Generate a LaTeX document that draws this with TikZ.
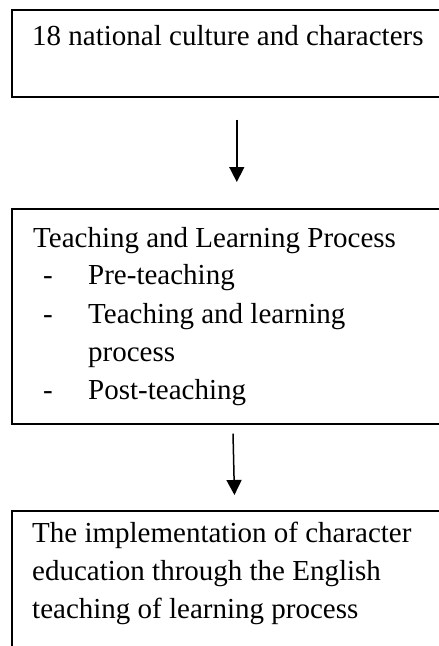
\documentclass[tikz,border=0pt]{standalone}
\usepackage{fontspec}
\setmainfont{Liberation Serif}
\usetikzlibrary{arrows.meta}
\begin{document}
\begin{tikzpicture}[x=1pt, y=-1pt,
  box/.style={draw=black, line width=1.6pt, anchor=north west, inner sep=0pt,
              minimum width=450pt},
  txt/.style={anchor=base west, inner sep=0pt, font=\fontsize{29}{38}\selectfont},
  arr/.style={line width=1.5pt, -{Triangle[length=15pt,width=15pt]}}]
  \useasboundingbox (0,0) rectangle (439,646);

  % boxes (they run past the right and bottom edge of the page)
  \node[box, minimum height=87pt]  (b1) at (11,9)   {};
  \node[box, minimum height=215pt] (b2) at (11,208) {};
  \node[box, minimum height=200pt] (b3) at (11,510) {};

  % first box
  \node[txt] (t1) at (32,45) {18 national culture and characters};

  % second box
  \node[txt] (t2)  at (33,247) {Teaching and Learning Process};
  \node[txt] (d1)  at (43,284) {-};
  \node[txt] (l1)  at (88,284) {Pre-teaching};
  \node[txt] (d2)  at (43,323) {-};
  \node[txt] (l2a) at (88,323) {Teaching and learning};
  \node[txt] (l2b) at (88,361) {process};
  \node[txt] (d3)  at (43,399) {-};
  \node[txt] (l3)  at (88,399) {Post-teaching};

  % third box
  \node[txt] (t3a) at (32,542) {The implementation of character};
  \node[txt] (t3b) at (32,580) {education through the English};
  \node[txt] (t3c) at (32,618) {teaching of learning process};

  % connectors
  \draw[arr, shorten <=22pt, shorten >=26pt] (b1.south) -- (b2.north);
  \draw[arr, shorten <=9pt, shorten >=15pt]
    ([xshift=-4pt]b2.south) -- ([xshift=-2pt]b3.north);
\end{tikzpicture}
\end{document}
